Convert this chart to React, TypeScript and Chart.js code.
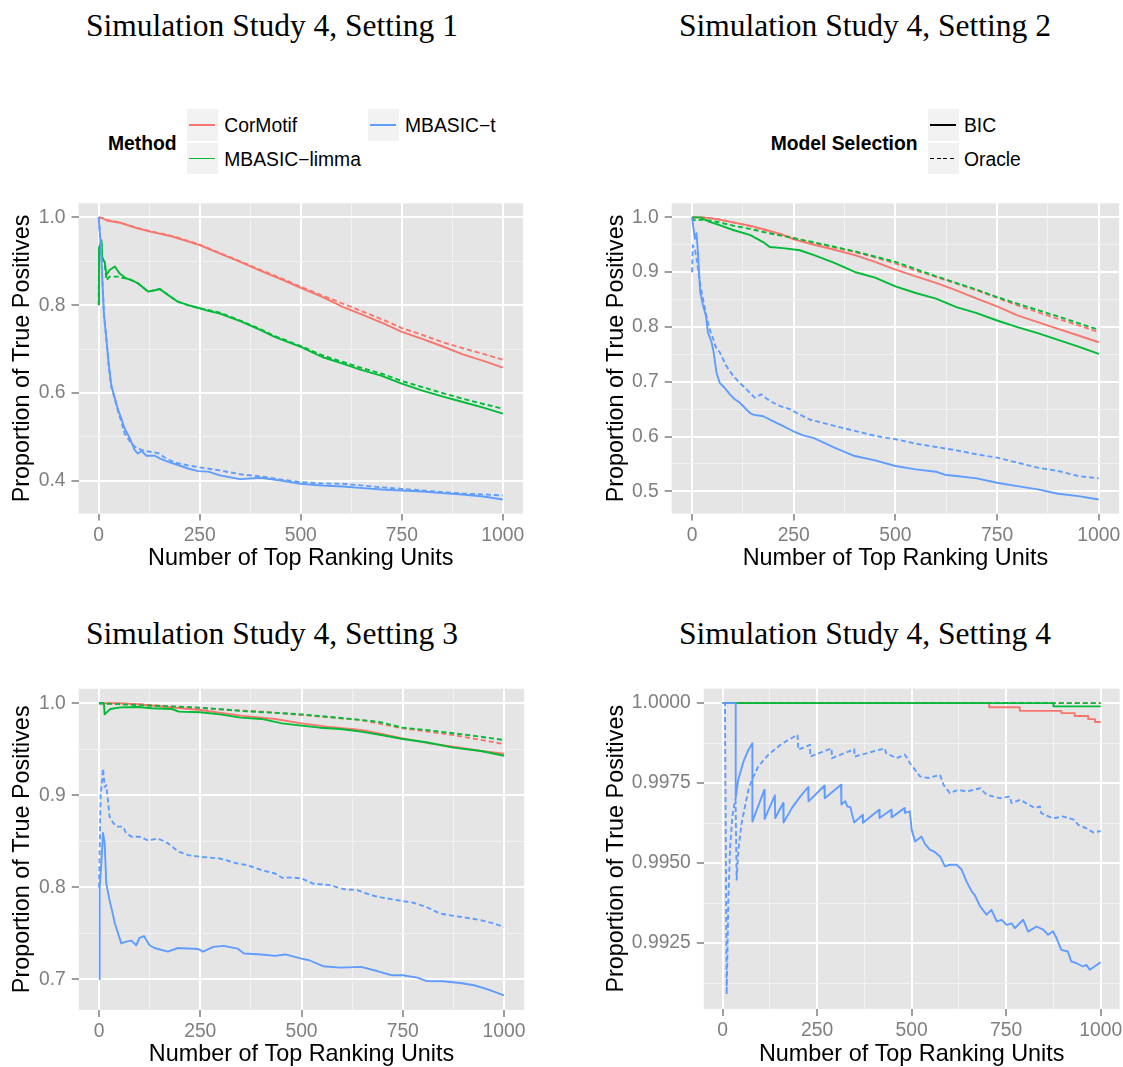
import React, { useEffect, useRef } from "react";
import { Chart, registerables } from "chart.js";

Chart.register(...registerables);

type Pt = [number, number];

// ---------- shared x axis ----------
const xMajorTicks = [0, 250, 500, 750, 1000];
const xMinorTicks = [125, 375, 625, 875];
const xTickLabels = ["0", "250", "500", "750", "1000"];

// ---------- y axis ticks per setting ----------
const y1Major = [0.4, 0.6, 0.8, 1.0];
const y1Minor = [0.5, 0.7, 0.9];
const y1Labels = ["0.4", "0.6", "0.8", "1.0"];

const y2Major = [0.5, 0.6, 0.7, 0.8, 0.9, 1.0];
const y2Minor = [0.55, 0.65, 0.75, 0.85, 0.95];
const y2Labels = ["0.5", "0.6", "0.7", "0.8", "0.9", "1.0"];

const y3Major = [0.7, 0.8, 0.9, 1.0];
const y3Minor = [0.75, 0.85, 0.95];
const y3Labels = ["0.7", "0.8", "0.9", "1.0"];

const y4Major = [0.9925, 0.995, 0.9975, 1.0];
const y4Minor = [0.99125, 0.99375, 0.99625, 0.99875];
const y4Labels = ["0.9925", "0.9950", "0.9975", "1.0000"];

// ---------- Setting 1 ----------
const s1CorMotifBIC: Pt[] = [[0,1.0],[10,0.998],[20,0.993],[53,0.9878],[96,0.975],[130,0.967],[180,0.957],[250,0.9369],[299,0.9179],[350,0.8989],[401,0.8783],[452,0.8586],[500,0.8395],[553,0.819],[604,0.7962],[655,0.7772],[706,0.7582],[750,0.7392],[799,0.724],[850,0.7065],[901,0.6882],[952,0.673],[1000,0.6578]];
const s1CorMotifOracle: Pt[] = [[0,1.0],[10,0.998],[20,0.994],[53,0.988],[96,0.976],[130,0.968],[180,0.958],[250,0.938],[299,0.919],[350,0.9],[401,0.88],[452,0.861],[500,0.842],[553,0.822],[604,0.8038],[655,0.785],[706,0.766],[750,0.748],[799,0.733],[850,0.716],[901,0.702],[952,0.689],[1000,0.676]];
const s1LimmaBIC: Pt[] = [[0,0.802],[0.7,0.929],[6.5,0.948],[9,0.903],[15,0.899],[19,0.869],[27,0.88],[40,0.888],[52,0.872],[68,0.861],[81,0.857],[97,0.85],[122,0.831],[139,0.834],[151,0.837],[172,0.823],[196,0.808],[221,0.8],[250,0.793],[271,0.787],[300,0.781],[350,0.7635],[401,0.743],[435,0.7278],[500,0.705],[553,0.682],[604,0.6669],[647,0.6532],[697,0.6403],[750,0.6213],[799,0.6061],[850,0.5924],[901,0.5795],[952,0.5665],[1000,0.5529]];
const s1LimmaOracle: Pt[] = [[0,0.8],[1,0.93],[6.5,0.945],[9,0.91],[15,0.895],[19,0.857],[27,0.865],[48,0.865],[60,0.862],[72,0.861],[81,0.857],[97,0.85],[122,0.831],[139,0.834],[151,0.837],[172,0.823],[196,0.808],[221,0.8],[250,0.793],[300,0.783],[350,0.765],[401,0.745],[435,0.73],[500,0.707],[553,0.686],[604,0.6707],[647,0.658],[697,0.645],[750,0.6274],[799,0.614],[850,0.6],[901,0.587],[952,0.575],[1000,0.5643]];
const s1TBIC: Pt[] = [[0,1.0],[0.7,1.0],[5,0.937],[8,0.876],[13,0.778],[19,0.724],[25,0.664],[31,0.618],[40,0.588],[48,0.561],[56,0.542],[64,0.519],[77,0.497],[89,0.47],[97,0.462],[106,0.468],[118,0.457],[139,0.457],[151,0.451],[172,0.443],[196,0.436],[221,0.428],[246,0.422],[271,0.421],[300,0.4122],[350,0.4038],[401,0.4068],[450,0.4008],[500,0.3932],[553,0.3894],[604,0.3871],[655,0.3833],[700,0.3802],[750,0.3779],[800,0.3757],[850,0.3719],[900,0.3688],[952,0.3643],[1000,0.3574]];
const s1TOracle: Pt[] = [[0,1.0],[5,0.94],[8,0.88],[13,0.78],[19,0.722],[25,0.66],[31,0.615],[40,0.585],[48,0.558],[56,0.535],[64,0.508],[77,0.49],[89,0.478],[93,0.475],[114,0.468],[147,0.463],[172,0.448],[196,0.44],[221,0.435],[254,0.43],[300,0.4236],[350,0.415],[401,0.4099],[450,0.403],[500,0.397],[553,0.394],[604,0.3932],[655,0.389],[700,0.385],[750,0.3817],[800,0.378],[850,0.3741],[900,0.371],[952,0.369],[1000,0.3665]];

// ---------- Setting 2 ----------
const s2CorMotifBIC: Pt[] = [[0,1.0],[27,1.0],[60,0.997],[101,0.991],[142,0.985],[183,0.977],[224,0.968],[250,0.96],[300,0.95],[350,0.941],[400,0.931],[450,0.9188],[500,0.9047],[550,0.8925],[600,0.8803],[650,0.8668],[700,0.8516],[750,0.8375],[800,0.821],[850,0.8088],[900,0.7966],[950,0.7844],[1000,0.7721]];
const s2CorMotifOracle: Pt[] = [[0,1.0],[27,1.0],[60,0.997],[101,0.991],[142,0.984],[183,0.976],[224,0.968],[250,0.962],[300,0.953],[400,0.937],[450,0.927],[500,0.9157],[550,0.903],[600,0.8913],[650,0.879],[700,0.8668],[750,0.8534],[800,0.8393],[850,0.827],[900,0.8149],[950,0.803],[1000,0.7905]];
const s2LimmaBIC: Pt[] = [[0,1.0],[20,1.0],[43,0.992],[68,0.986],[101,0.977],[142,0.968],[175,0.955],[191,0.946],[224,0.944],[265,0.94],[300,0.931],[350,0.9169],[400,0.9004],[450,0.89],[500,0.8742],[550,0.862],[600,0.8516],[650,0.8363],[700,0.8253],[750,0.8118],[800,0.7996],[850,0.7886],[900,0.7764],[950,0.7642],[1000,0.7508]];
const s2LimmaOracle: Pt[] = [[0,1.0],[5,0.995],[11,0.995],[27,0.996],[60,0.992],[101,0.985],[142,0.979],[183,0.972],[224,0.966],[297,0.955],[400,0.938],[500,0.9188],[600,0.8925],[700,0.868],[750,0.8546],[800,0.8424],[900,0.8192],[1000,0.7947]];
const s2TBIC: Pt[] = [[0,1.0],[2,1.0],[7,0.961],[11,0.971],[15,0.931],[20,0.864],[27,0.839],[34,0.821],[39,0.79],[48,0.772],[53,0.754],[60,0.717],[68,0.698],[80,0.689],[93,0.677],[105,0.668],[117,0.662],[129,0.653],[142,0.643],[150,0.64],[175,0.637],[199,0.628],[224,0.619],[248,0.61],[273,0.602],[300,0.597],[350,0.5797],[400,0.5644],[450,0.5565],[500,0.5461],[550,0.54],[600,0.5357],[625,0.5296],[650,0.5278],[700,0.5235],[750,0.5156],[800,0.5095],[850,0.5034],[900,0.4954],[950,0.4911],[1000,0.485]];
const s2TOracle: Pt[] = [[0,0.9],[2,0.949],[7,0.943],[11,0.925],[19,0.882],[27,0.851],[35,0.821],[43,0.796],[52,0.778],[60,0.76],[68,0.754],[84,0.729],[101,0.711],[117,0.698],[134,0.686],[154,0.671],[170,0.677],[191,0.665],[215,0.656],[240,0.65],[265,0.64],[289,0.631],[350,0.6194],[400,0.6103],[450,0.6011],[500,0.595],[550,0.587],[600,0.5809],[650,0.5748],[700,0.5675],[750,0.5614],[800,0.5522],[850,0.5431],[900,0.537],[950,0.5278],[1000,0.5235]];

// ---------- Setting 3 ----------
const s3CorMotifBIC: Pt[] = [[0,1.0],[50,1.0],[96,0.999],[250,0.9927],[350,0.9866],[435,0.983],[500,0.9782],[562,0.9746],[647,0.971],[689,0.9674],[750,0.9619],[816,0.9565],[875,0.9528],[943,0.9481],[1000,0.9452]];
const s3CorMotifOracle: Pt[] = [[0,1.0],[96,0.999],[250,0.9946],[400,0.991],[500,0.9873],[647,0.9819],[750,0.9728],[875,0.9655],[1000,0.9557]];
const s3LimmaBIC: Pt[] = [[0,1.0],[12,1.0],[14,0.988],[28,0.9938],[53,0.9956],[96,0.996],[130,0.9946],[180,0.9938],[197,0.9909],[250,0.9902],[299,0.988],[350,0.9844],[401,0.983],[452,0.9782],[500,0.9757],[545,0.9735],[596,0.9721],[647,0.9692],[697,0.9655],[750,0.9612],[808,0.9576],[875,0.9518],[943,0.9481],[1000,0.943]];
const s3LimmaOracle: Pt[] = [[0,1.0],[96,0.998],[250,0.9953],[350,0.9917],[500,0.988],[604,0.9837],[689,0.98],[750,0.9735],[808,0.971],[875,0.9674],[943,0.9637],[1000,0.96]];
const s3TBIC: Pt[] = [[0,0.7],[1.6,0.8],[5.8,0.826],[9.9,0.859],[14,0.848],[18,0.804],[26,0.786],[32,0.775],[39,0.761],[47,0.75],[55,0.739],[67,0.741],[80,0.742],[92,0.737],[100,0.745],[111,0.747],[125,0.737],[137,0.734],[170,0.73],[195,0.734],[244,0.733],[257,0.73],[282,0.7352],[308,0.7363],[342,0.7334],[358,0.728],[401,0.7269],[435,0.7254],[460,0.727],[500,0.7225],[519,0.7207],[553,0.7142],[596,0.7127],[647,0.7135],[689,0.7087],[723,0.7044],[750,0.7044],[786,0.7018],[808,0.6982],[850,0.6979],[892,0.696],[926,0.6935],[960,0.6891],[1000,0.6826]];
const s3TOracle: Pt[] = [[0,0.8],[4,0.899],[10,0.929],[14,0.909],[18,0.911],[22,0.895],[26,0.877],[35,0.87],[43,0.866],[59,0.866],[67,0.859],[80,0.855],[100,0.855],[121,0.851],[146,0.853],[170,0.848],[195,0.839],[220,0.835],[253,0.833],[299,0.8313],[342,0.8259],[367,0.824],[401,0.8186],[435,0.815],[452,0.8103],[477,0.8107],[500,0.8096],[528,0.8041],[570,0.8023],[604,0.798],[638,0.7969],[672,0.7914],[697,0.789],[750,0.785],[774,0.7835],[808,0.7787],[842,0.7715],[875,0.769],[909,0.7668],[943,0.7642],[969,0.7613],[1000,0.757]];

// ---------- Setting 4 ----------
const s4CorMotifBIC: Pt[] = [[0,1.0],[705,1.0],[705,0.99987],[786,0.99987],[786,0.99976],[896,0.99976],[896,0.99969],[931,0.99969],[931,0.9996],[967,0.9996],[967,0.9995],[985,0.9995],[985,0.99941],[1000,0.99941]];
const s4CorMotifOracle: Pt[] = [[0,1.0],[1000,1.0]];
const s4LimmaBIC: Pt[] = [[0,1.0],[875,1.0],[875,0.9999],[1000,0.9999]];
const s4LimmaOracle: Pt[] = [[0,1.0],[1000,1.0]];
const s4TBIC: Pt[] = [[0,1.0],[34.4,1.0],[34.4,0.99703],[41,0.9976],[55,0.99818],[68,0.99854],[78.5,0.99875],[78.5,0.9963],[110,0.99729],[111,0.99638],[138,0.99712],[139,0.99641],[160,0.99688],[161,0.99627],[183,0.99672],[205,0.99708],[226,0.99738],[227,0.99693],[269,0.99742],[270,0.99703],[313,0.99745],[314,0.99683],[324,0.99694],[330,0.99677],[338,0.99675],[342,0.99654],[348,0.99627],[370,0.99651],[371,0.99626],[414,0.99667],[415,0.99641],[446,0.99667],[447,0.99643],[481,0.99672],[482,0.99657],[495,0.99662],[500,0.99604],[509,0.99568],[526,0.99583],[535,0.9956],[548,0.99542],[561,0.99535],[575,0.99521],[588,0.9949],[601,0.99495],[619,0.99495],[632,0.9948],[645,0.99443],[659,0.99411],[667,0.994],[681,0.99365],[698,0.99339],[711,0.99354],[725,0.99318],[738,0.99323],[751,0.99307],[764,0.99312],[773,0.99297],[795,0.99323],[808,0.99286],[830,0.99302],[848,0.99292],[861,0.99276],[874,0.99287],[883,0.99266],[896,0.99229],[913,0.99224],[922,0.99193],[935,0.99188],[953,0.99177],[962,0.99182],[971,0.99167],[997,0.99188],[1000,0.9919]];
const s4TOracle: Pt[] = [[0,1.0],[6,1.0],[10.5,0.9909],[15,0.99385],[19.5,0.99546],[25.5,0.99646],[33,0.99698],[34,0.99698],[37,0.99448],[41.4,0.99542],[50,0.99625],[59,0.99677],[68,0.99729],[77,0.9976],[94,0.99802],[121,0.99839],[156,0.99873],[198,0.99901],[200,0.99854],[231,0.9987],[232,0.99833],[288,0.99859],[289,0.99828],[348,0.99856],[349,0.99833],[429,0.99859],[432,0.99844],[460,0.99828],[482,0.99839],[495,0.99813],[522,0.99771],[544,0.99766],[575,0.99776],[584,0.99745],[601,0.99719],[623,0.99729],[645,0.99724],[681,0.99734],[698,0.99714],[733,0.99703],[760,0.99708],[764,0.99688],[787,0.99698],[826,0.99672],[839,0.99677],[843,0.99656],[874,0.9964],[900,0.99646],[931,0.99635],[940,0.9962],[962,0.99609],[980,0.99596],[1000,0.996]];

// ---------- legend entries ----------
const methodNames = ["CorMotif", "MBASIC\u2212limma", "MBASIC\u2212t"];
const methodColors = ["#F8766D", "#00BA38", "#619CFF"];
const selectionNames = ["BIC", "Oracle"];

const FONT_SANS = "'Liberation Sans', Arial, Helvetica, sans-serif";
const FONT_SERIF = "'Liberation Serif', 'Times New Roman', Times, serif";
const TICK_SIZE = 19.3;
const LEGEND_SIZE = 19.3;
const AXIS_TITLE_SIZE = 23.4;
const TITLE_SIZE = 31.5;
const DASH = [5, 3];

interface Box { l: number; t: number; r: number; b: number }
interface PanelCfg {
  name: string;
  left: number; top: number; width: number; height: number;
  area: Box;
  yTitleX: number; xTitleY: number;
  yMajor: number[]; yMinor: number[]; yLabels: string[];
  series: Pt[][]; // order: CorMotif BIC/Oracle, limma BIC/Oracle, t BIC/Oracle
}

const panels: PanelCfg[] = [
  { name: "p1", left: 0, top: 190, width: 545, height: 390,
    area: { l: 78.5, t: 203.3, r: 523, b: 513.6 }, yTitleX: 22.5, xTitleY: 558.5,
    yMajor: y1Major, yMinor: y1Minor, yLabels: y1Labels,
    series: [s1CorMotifBIC, s1CorMotifOracle, s1LimmaBIC, s1LimmaOracle, s1TBIC, s1TOracle] },
  { name: "p2", left: 590, top: 190, width: 533, height: 390,
    area: { l: 671.7, t: 203.3, r: 1119.1, b: 513.6 }, yTitleX: 616.5, xTitleY: 558.5,
    yMajor: y2Major, yMinor: y2Minor, yLabels: y2Labels,
    series: [s2CorMotifBIC, s2CorMotifOracle, s2LimmaBIC, s2LimmaOracle, s2TBIC, s2TOracle] },
  { name: "p3", left: 0, top: 675, width: 545, height: 400,
    area: { l: 78.75, t: 688.7, r: 524.25, b: 1009.9 }, yTitleX: 22.5, xTitleY: 1055,
    yMajor: y3Major, yMinor: y3Minor, yLabels: y3Labels,
    series: [s3CorMotifBIC, s3CorMotifOracle, s3LimmaBIC, s3LimmaOracle, s3TBIC, s3TOracle] },
  { name: "p4", left: 590, top: 675, width: 533, height: 400,
    area: { l: 703.8, t: 688.6, r: 1119.6, b: 1008.9 }, yTitleX: 616.5, xTitleY: 1055,
    yMajor: y4Major, yMinor: y4Minor, yLabels: y4Labels,
    series: [s4CorMotifBIC, s4CorMotifOracle, s4LimmaBIC, s4LimmaOracle, s4TBIC, s4TOracle] },
];

const titles = [
  { text: "Simulation Study 4, Setting 1", left: 86, baseline: 36 },
  { text: "Simulation Study 4, Setting 2", left: 679, baseline: 36 },
  { text: "Simulation Study 4, Setting 3", left: 86, baseline: 644 },
  { text: "Simulation Study 4, Setting 4", left: 679, baseline: 644 },
];

const near = (arr: number[], v: number) => arr.findIndex((m) => Math.abs(m - v) < 1e-9);

// ggplot-style expansion: 5% of the data range on each side
function expandedRange(values: number[]): [number, number] {
  const lo = Math.min(...values);
  const hi = Math.max(...values);
  const pad = (hi - lo) * 0.05;
  return [lo - pad, hi + pad];
}

const panelBackground = {
  id: "panelBackground",
  beforeDraw(chart: any) {
    const { ctx, chartArea: a } = chart;
    ctx.save();
    ctx.fillStyle = "#E5E5E5";
    ctx.fillRect(a.left, a.top, a.right - a.left, a.bottom - a.top);
    ctx.restore();
  },
};

function axisOptions(
  major: number[], minor: number[], labels: string[], range: [number, number],
  fit: (s: any) => void, title: string, titlePadding: any, labelPad: number,
) {
  const isMajor = (ctx: any) => near(major, ctx.tick ? ctx.tick.value : NaN) >= 0;
  return {
    type: "linear" as const,
    min: range[0],
    max: range[1],
    bounds: "data" as const,
    afterBuildTicks: (s: any) => {
      s.ticks = [...major, ...minor].sort((a, b) => a - b).map((v) => ({ value: v }));
    },
    afterFit: (s: any) => {
      fit(s);
      s.paddingLeft = 0; s.paddingRight = 0; s.paddingTop = 0; s.paddingBottom = 0;
    },
    border: { display: false },
    grid: {
      drawOnChartArea: true,
      drawTicks: true,
      tickLength: 7,
      color: (c: any) => (isMajor(c) ? "#FFFFFF" : "#F2F2F2"),
      lineWidth: (c: any) => (isMajor(c) ? 2 : 1),
      tickColor: (c: any) => (isMajor(c) ? "#7F7F7F" : "rgba(0,0,0,0)"),
      tickWidth: (c: any) => (isMajor(c) ? 1.5 : 1),
    },
    ticks: {
      autoSkip: false,
      maxRotation: 0,
      minRotation: 0,
      padding: labelPad,
      color: "#7F7F7F",
      font: { family: FONT_SANS, size: TICK_SIZE },
      callback: (v: any) => {
        const i = near(major, Number(v));
        return i >= 0 ? labels[i] : "";
      },
    },
    title: {
      display: true,
      text: title,
      color: "#000000",
      font: { family: FONT_SANS, size: AXIS_TITLE_SIZE, lineHeight: 1.2 },
      padding: titlePadding,
    },
  };
}

function Panel({ cfg }: { cfg: PanelCfg }) {
  const ref = useRef<HTMLCanvasElement>(null);
  useEffect(() => {
    const c = cfg;
    const half = (AXIS_TITLE_SIZE * 1.2) / 2;
    const yAxisW = c.area.l - c.left;
    const xAxisH = c.top + c.height - c.area.b;
    const padTop = c.area.t - c.top;
    const padRight = c.left + c.width - c.area.r;

    const allX = c.series.flat().map((p) => p[0]);
    const allY = c.series.flat().map((p) => p[1]);

    const styleOf = [
      { color: methodColors[0], dash: [] as number[] },
      { color: methodColors[0], dash: DASH },
      { color: methodColors[1], dash: [] as number[] },
      { color: methodColors[1], dash: DASH },
      { color: methodColors[2], dash: [] as number[] },
      { color: methodColors[2], dash: DASH },
    ];
    const names = [
      `${methodNames[0]} ${selectionNames[0]}`, `${methodNames[0]} ${selectionNames[1]}`,
      `${methodNames[1]} ${selectionNames[0]}`, `${methodNames[1]} ${selectionNames[1]}`,
      `${methodNames[2]} ${selectionNames[0]}`, `${methodNames[2]} ${selectionNames[1]}`,
    ];
    // Chart.js paints dataset 0 last, so blue comes first, then green, then red.
    const drawOrder = [4, 5, 2, 3, 0, 1];
    const datasets = drawOrder.map((i) => ({
      label: names[i],
      data: c.series[i].map(([x, y]) => ({ x, y })),
      borderColor: styleOf[i].color,
      backgroundColor: styleOf[i].color,
      borderWidth: 1.9,
      borderDash: styleOf[i].dash,
      borderJoinStyle: "round" as const,
      pointRadius: 0,
      tension: 0,
      fill: false,
    }));

    const chart = new Chart(ref.current as HTMLCanvasElement, {
      type: "line",
      data: { datasets },
      options: {
        animation: false,
        responsive: false,
        maintainAspectRatio: false,
        devicePixelRatio: 1,
        layout: { padding: { top: padTop, right: padRight, bottom: 0, left: 0 } },
        plugins: { legend: { display: false }, tooltip: { enabled: false }, title: { display: false } },
        scales: {
          x: axisOptions(xMajorTicks, xMinorTicks, xTickLabels, expandedRange(allX),
            (s) => { s.height = xAxisH; }, "Number of Top Ranking Units",
            { top: 0, bottom: c.top + c.height - c.xTitleY - half }, 3) as any,
          y: axisOptions(c.yMajor, c.yMinor, c.yLabels, expandedRange(allY),
            (s) => { s.width = yAxisW; }, "Proportion of True Positives",
            { top: c.yTitleX - c.left - half, bottom: 0 }, 6) as any,
        },
      },
      plugins: [panelBackground],
    });
    return () => chart.destroy();
  }, [cfg]);
  return (
    <canvas
      ref={ref}
      width={cfg.width}
      height={cfg.height}
      style={{ position: "absolute", left: cfg.left, top: cfg.top, width: cfg.width, height: cfg.height }}
    />
  );
}

function Text({ left, centerY, children, size = LEGEND_SIZE, bold = false }: any) {
  return (
    <div
      style={{
        position: "absolute", left, top: centerY - 0.4885 * size, fontFamily: FONT_SANS,
        fontSize: size, lineHeight: `${size}px`, fontWeight: bold ? "bold" : "normal",
        whiteSpace: "nowrap", color: "#000",
      }}
    >
      {children}
    </div>
  );
}

function Key({ left, top, color, dashed }: { left: number; top: number; color: string; dashed: boolean }) {
  const line = dashed
    ? `repeating-linear-gradient(90deg, ${color} 0 4px, transparent 4px 6.7px)`
    : color;
  return (
    <div style={{ position: "absolute", left, top, width: 31.6, height: 31.7, background: "#F2F2F2" }}>
      <div style={{ position: "absolute", left: 2.8, top: 14.9, width: 26, height: 1.9, background: line }} />
    </div>
  );
}

export default function App() {
  return (
    <div
      style={{
        position: "fixed", left: 0, top: 0, width: 1123, height: 1067,
        overflow: "hidden", background: "#FFFFFF",
      }}
    >
      {titles.map((t) => (
        <div
          key={t.text}
          style={{
            position: "absolute", left: t.left, top: t.baseline - 0.8375 * TITLE_SIZE,
            fontFamily: FONT_SERIF, fontSize: TITLE_SIZE, lineHeight: `${TITLE_SIZE}px`,
            whiteSpace: "nowrap", color: "#000",
          }}
        >
          {t.text}
        </div>
      ))}

      {/* Method legend */}
      <Text left={108} centerY={143} bold>Method</Text>
      <Key left={186.7} top={109.3} color={methodColors[0]} dashed={false} />
      <Key left={186.7} top={142.7} color={methodColors[1]} dashed={false} />
      <Key left={367.7} top={109.3} color={methodColors[2]} dashed={false} />
      <Text left={224.3} centerY={125.5}>{methodNames[0]}</Text>
      <Text left={224.3} centerY={159}>{methodNames[1]}</Text>
      <Text left={405} centerY={125.5}>{methodNames[2]}</Text>

      {/* Model selection legend */}
      <Text left={770.7} centerY={143} bold>Model Selection</Text>
      <Key left={927.7} top={109.3} color="#000000" dashed={false} />
      <Key left={927.7} top={142.7} color="#000000" dashed={true} />
      <Text left={964} centerY={125.5}>{selectionNames[0]}</Text>
      <Text left={964} centerY={159}>{selectionNames[1]}</Text>

      {panels.map((p) => (
        <Panel key={p.name} cfg={p} />
      ))}
    </div>
  );
}
